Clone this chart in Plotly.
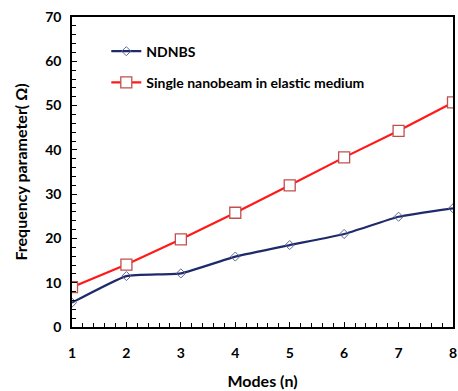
import plotly.graph_objects as go

# Mode numbers and frequency parameters
modes = [1, 2, 3, 4, 5, 6, 7, 8]
ndnbs = [5.5, 11.5, 12.1, 15.9, 18.5, 21.0, 24.9, 26.8]
single_beam = [9.0, 14.1, 19.8, 25.8, 32.0, 38.3, 44.3, 50.7]

y_ticks = [0, 10, 20, 30, 40, 50, 60, 70]
x_ticks = [1, 2, 3, 4, 5, 6, 7, 8]

font_family = "Lato, 'Open Sans', sans-serif"

fig = go.Figure()

fig.add_trace(go.Scatter(
    x=modes, y=ndnbs, name="<b>NDNBS</b>", mode="lines+markers",
    line=dict(color="#1f2a6b", width=2.2, shape="spline", smoothing=0.4),
    marker=dict(symbol="diamond-open", size=7, color="#5a6796",
                line=dict(width=1)),
    legendgroup="a",
))
fig.add_trace(go.Scatter(
    x=modes, y=single_beam, name="<b>Single nanobeam in elastic medium</b>",
    mode="lines+markers",
    line=dict(color="#ff1a1a", width=2.2),
    marker=dict(symbol="square", size=11, color="white",
                line=dict(color="#c0504d", width=1.3)),
    legendgroup="b",
))

axis_common = dict(
    showgrid=False, zeroline=False, showline=True, mirror=True,
    linecolor="black", linewidth=1.5,
    ticks="inside", ticklen=5, tickwidth=1.2, tickcolor="black",
    tickfont=dict(family=font_family, size=14, color="black"),
    ticklabeloverflow="allow",
)

fig.update_xaxes(
    range=[1, 8], tickvals=x_ticks, ticktext=[f"<b>{v}</b>" for v in x_ticks],
    minor=dict(dtick=0.2, ticks="inside", ticklen=4, tickcolor="black", tickwidth=1),
    title=dict(text="<b>Modes (n)</b>", standoff=16,
               font=dict(family=font_family, size=16, color="black")),
    ticklabelstandoff=12,
    **axis_common,
)
fig.update_yaxes(
    range=[0, 70], tickvals=y_ticks, ticktext=[f"<b>{v}</b>" for v in y_ticks],
    minor=dict(dtick=2, ticks="inside", ticklen=4, tickcolor="black", tickwidth=1),
    title=dict(text="<b>Frequency parameter( Ω)</b>", standoff=14,
               font=dict(family=font_family, size=16, color="black")),
    ticklabelstandoff=6,
    **axis_common,
)

fig.update_layout(
    width=458, height=391,
    margin=dict(l=72, r=1, t=17, b=64),
    paper_bgcolor="white", plot_bgcolor="white",
    showlegend=True,
    legend=dict(
        x=0.09, y=0.94, xanchor="left", yanchor="top",
        bgcolor="rgba(0,0,0,0)", tracegroupgap=10,
        font=dict(family=font_family, size=14, color="black"),
    ),
)

fig.write_html("out.html")
